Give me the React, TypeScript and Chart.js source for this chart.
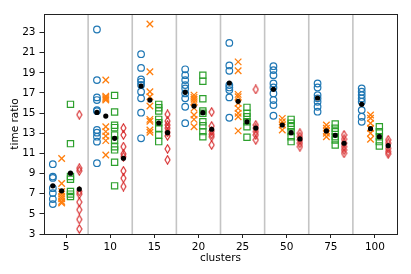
import React, { useEffect, useRef } from 'react';
import { Chart, registerables } from 'chart.js';
Chart.register(...registerables);

const categories = ['5', '10', '15', '20', '25', '50', '75', '100'];
const yTicks = [3, 5, 7, 9, 11, 13, 15, 17, 19, 21, 23];

const blueValues: number[][] = [
  [9.93, 8.7, 8.57, 7.55, 7.06, 6.47, 5.97],
  [23.3, 18.28, 16.56, 16.3, 15.3, 15.2, 13.33, 13.06, 12.66, 12.17, 10.03],
  [20.85, 19.49, 18.35, 18.11, 17.8, 17.12, 16.47, 15.04, 12.5],
  [19.35, 18.77, 18.28, 17.78, 17.45, 16.96, 16.47, 15.63, 14.0],
  [21.97, 19.73, 19.2, 17.78, 17.55, 17.29, 16.56, 14.54],
  [19.66, 19.27, 18.77, 17.94, 17.55, 16.96, 16.3, 15.8, 14.74],
  [17.94, 17.55, 16.79, 16.47, 16.13, 15.63, 15.14],
  [17.46, 17.12, 16.79, 16.46, 16.13, 15.3, 14.64, 14.14],
];
const orangeValues: number[][] = [
  [10.49, 8.01, 7.22, 6.96, 6.72, 6.5, 6.23, 6.07],
  [18.28, 16.69, 16.56, 16.43, 16.3, 13.65, 13.16, 12.73, 12.27, 10.85],
  [23.85, 19.1, 17.12, 16.62, 15.7, 14.38, 14.2, 13.33, 13.1],
  [16.79, 16.56, 16.37, 16.13, 15.5, 14.81, 14.38, 13.65],
  [20.09, 19.2, 16.86, 16.62, 15.97, 15.47, 14.98, 14.64, 13.24],
  [14.48, 14.14, 13.82, 13.33],
  [13.82, 13.5, 13.23, 13.0, 12.66],
  [14.81, 14.49, 14.0, 13.5, 13.0, 12.41],
];
const greenValues: number[][] = [
  [15.87, 11.97, 8.7, 8.44, 7.22, 6.96, 6.72],
  [16.76, 15.11, 13.79, 13.56, 12.83, 12.34, 11.67, 11.35, 10.13, 7.78],
  [15.87, 15.54, 15.21, 14.38, 14.05, 13.5, 12.83, 12.17],
  [18.77, 18.17, 16.43, 15.21, 14.98, 14.14, 13.75, 13.16, 12.66],
  [15.57, 14.98, 14.64, 14.14, 13.65, 12.6],
  [14.38, 14.0, 13.65, 13.16, 12.66, 12.17],
  [13.92, 13.5, 13.16, 12.66, 12.34, 11.84],
  [13.65, 13.16, 12.66, 12.17, 11.74],
];
const redValues: number[][] = [
  [14.84, 9.53, 9.27, 7.22, 6.96, 6.17, 5.41, 4.45, 3.5],
  [13.52, 12.83, 11.67, 10.95, 10.68, 9.27, 8.54, 7.71],
  [14.88, 14.2, 13.82, 13.5, 13.1, 12.73, 11.45, 10.36],
  [15.11, 13.72, 13.23, 12.9, 12.66, 11.84],
  [17.35, 13.82, 13.5, 13.16, 12.83, 12.34],
  [13.0, 12.66, 12.34, 12.01, 11.67],
  [12.83, 12.41, 12.01, 11.67, 11.35, 11.02],
  [12.34, 12.01, 11.5, 11.18, 10.95],
];

const blueMeans = [7.78, 15.07, 17.68, 17.06, 17.98, 17.36, 16.5, 15.87];
const orangeMeans = [7.29, 14.71, 16.3, 15.7, 16.17, 13.82, 13.23, 13.46];
const greenMeans = [9.04, 12.5, 14.02, 15.04, 14.14, 13.06, 12.8, 12.66];
const redMeans = [7.46, 10.52, 13.06, 13.4, 13.52, 12.44, 12.01, 11.77];

const OFFSETS = [-0.3, -0.1, 0.1, 0.3];
const COLORS = ['#1f77b4', '#ff7f0e', '#2ca02c', '#d62728'];
const FONT = 'DejaVu Sans';

function toPoints(groups: number[][], off: number) {
  const pts: { x: number; y: number }[] = [];
  groups.forEach((g, i) => g.forEach((v) => pts.push({ x: i + off, y: v })));
  return pts;
}

function makeThinDiamond(color: string) {
  const c = document.createElement('canvas');
  c.width = 7;
  c.height = 10;
  const ctx = c.getContext('2d')!;
  ctx.strokeStyle = color;
  ctx.lineWidth = 1.1;
  ctx.beginPath();
  ctx.moveTo(3.5, 0.8);
  ctx.lineTo(6.0, 5);
  ctx.lineTo(3.5, 9.2);
  ctx.lineTo(1.0, 5);
  ctx.closePath();
  ctx.stroke();
  return c;
}

const separatorPlugin = {
  id: 'separators',
  beforeDatasetsDraw(chart: any) {
    const { ctx, chartArea, scales } = chart;
    const xs = scales.x;
    ctx.save();
    ctx.strokeStyle = '#c4c4c4';
    ctx.lineWidth = 1.6;
    for (let i = 0; i < categories.length - 1; i++) {
      const px = xs.getPixelForValue(i + 0.5);
      ctx.beginPath();
      ctx.moveTo(px, chartArea.top);
      ctx.lineTo(px, chartArea.bottom);
      ctx.stroke();
    }
    ctx.restore();
  },
  afterDraw(chart: any) {
    const { ctx, chartArea } = chart;
    ctx.save();
    ctx.strokeStyle = '#222';
    ctx.lineWidth = 1;
    ctx.strokeRect(
      Math.round(chartArea.left) + 0.5,
      Math.round(chartArea.top) + 0.5,
      Math.round(chartArea.right - chartArea.left),
      Math.round(chartArea.bottom - chartArea.top)
    );
    ctx.restore();
  },
};

export default function App() {
  const ref = useRef<HTMLCanvasElement | null>(null);
  useEffect(() => {
    if (!ref.current) return;
    const diamond = makeThinDiamond(COLORS[3]);
    const meanPts = [blueMeans, orangeMeans, greenMeans, redMeans].flatMap((arr, s) =>
      arr.map((v, i) => ({ x: i + OFFSETS[s], y: v }))
    );
    const chart = new Chart(ref.current, {
      type: 'scatter',
      data: {
        datasets: [
          {
            label: 'mean',
            data: meanPts,
            pointStyle: 'circle',
            pointRadius: 2.6,
            backgroundColor: '#000',
            borderColor: '#000',
            borderWidth: 0,
            order: 0,
          },
          {
            label: 'a',
            data: toPoints(blueValues, OFFSETS[0]),
            pointStyle: 'circle',
            pointRadius: 3.3,
            borderWidth: 1.2,
            borderColor: COLORS[0],
            backgroundColor: 'rgba(0,0,0,0)',
            order: 1,
          },
          {
            label: 'b',
            data: toPoints(orangeValues, OFFSETS[1]),
            pointStyle: 'crossRot',
            pointRadius: 4.6,
            borderWidth: 1.3,
            borderColor: COLORS[1],
            backgroundColor: COLORS[1],
            order: 1,
          },
          {
            label: 'c',
            data: toPoints(greenValues, OFFSETS[2]),
            pointStyle: 'rect',
            pointRadius: 4.4,
            borderWidth: 1.2,
            borderColor: COLORS[2],
            backgroundColor: 'rgba(0,0,0,0)',
            order: 1,
          },
          {
            label: 'd',
            data: toPoints(redValues, OFFSETS[3]),
            pointStyle: diamond as any,
            pointRadius: 4,
            borderColor: COLORS[3],
            backgroundColor: 'rgba(0,0,0,0)',
            order: 1,
          },
        ],
      },
      options: {
        animation: false,
        responsive: true,
        maintainAspectRatio: false,
        events: [],
        layout: { padding: { top: 14, right: 14, left: 0, bottom: 0 } },
        plugins: { legend: { display: false }, tooltip: { enabled: false } },
        scales: {
          x: {
            type: 'linear',
            min: -0.5,
            max: categories.length - 0.5,
            afterBuildTicks: (scale: any) => {
              scale.ticks = categories.map((_, i) => ({ value: i }));
            },
            afterFit: (scale: any) => {
              scale.height = 40;
            },
            grid: {
              drawOnChartArea: false,
              drawTicks: true,
              tickLength: 4,
              tickColor: '#222',
            },
            border: { display: false },
            ticks: {
              autoSkip: false,
              maxRotation: 0,
              padding: 3,
              color: '#000',
              font: { family: FONT, size: 10.5 },
              callback: (v: any) => categories[Math.round(Number(v))] ?? '',
            },
            title: {
              display: true,
              text: 'clusters',
              color: '#000',
              font: { family: FONT, size: 10.5 },
              padding: { top: 0, bottom: 9 },
            },
          },
          y: {
            type: 'linear',
            min: 3,
            max: 24.84,
            afterBuildTicks: (scale: any) => {
              scale.ticks = yTicks.map((v) => ({ value: v }));
            },
            afterFit: (scale: any) => {
              scale.width = 44;
            },
            grid: {
              drawOnChartArea: false,
              drawTicks: true,
              tickLength: 4.5,
              tickColor: '#222',
            },
            border: { display: false },
            ticks: {
              padding: 4,
              color: '#000',
              font: { family: FONT, size: 10.5 },
            },
            title: {
              display: true,
              text: 'time ratio',
              color: '#000',
              font: { family: FONT, size: 10.5 },
              padding: { top: 9, bottom: 0 },
            },
          },
        },
      },
      plugins: [separatorPlugin],
    });
    return () => chart.destroy();
  }, []);
  return (
    <div style={{ position: 'absolute', left: 0, top: 0, width: 411, height: 274 }}>
      <canvas ref={ref} />
    </div>
  );
}
